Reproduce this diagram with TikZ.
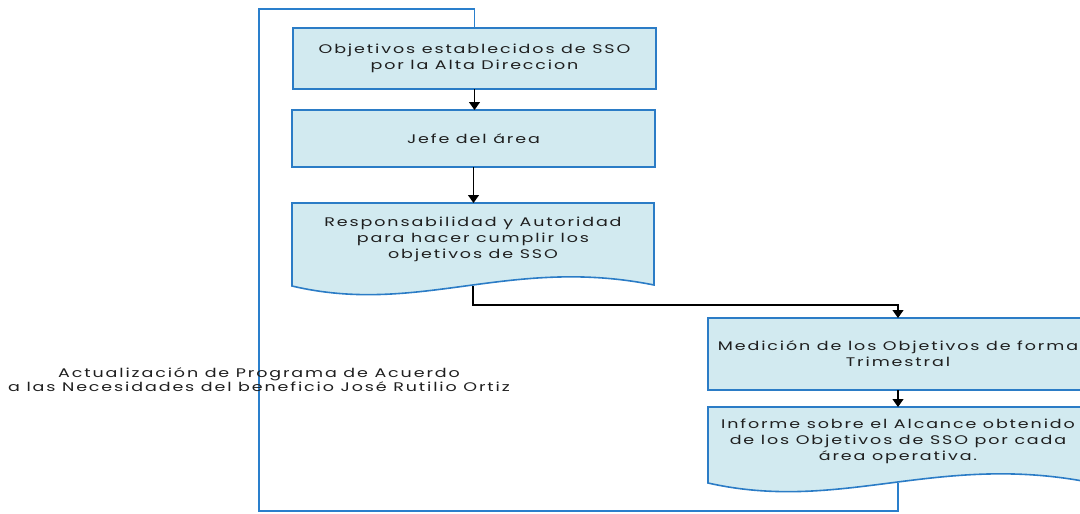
\documentclass[tikz,border=0pt]{standalone}
\usepackage{fontspec}
\setmainfont{Poppins}[FakeStretch=1.4, LetterSpace=15]
\usetikzlibrary{arrows.meta,calc,backgrounds}

\definecolor{boxfill}{HTML}{D2EAF0}
\definecolor{boxline}{HTML}{2B7CC6}
\definecolor{loopline}{HTML}{2A7FCC}

% wavy-bottom document outline around a node; #1 = node, #2 = extra depth of the wave
\newcommand\docoutline[2]{%
  \path[docbox] (#1.north west) -- (#1.north east)
    -- ($(#1.south east)+(0,#2-1)$)
    .. controls ($(#1.south west)!0.6!(#1.south east)+(0,#2-30)$)
       and ($(#1.south west)!0.35!(#1.south east)+(0,#2+30)$)
    .. ($(#1.south west)+(0,#2)$) -- cycle;}

\begin{document}
\begin{tikzpicture}[x=1pt,y=-1pt,
  txt/.style={font=\fontsize{12.5}{16}\selectfont, text=black!88, align=center},
  procbox/.style={txt, draw=boxline, fill=boxfill, line width=1.6pt,
    inner sep=0pt, outer sep=0pt},
  docnode/.style={txt, inner sep=0pt, outer sep=0pt},
  docbox/.style={draw=boxline, fill=boxfill, line width=1.6pt},
  flow/.style={draw=black, line width=1.1pt, -{Triangle[width=11pt,length=8pt]}},
  feedback/.style={draw=loopline, line width=1.5pt}]

\useasboundingbox (0,0) rectangle (1080,514);

% process steps
\node[procbox, minimum width=363pt, minimum height=61pt] (b1) at (474.5,58.5)
  {Objetivos establecidos de SSO\\por la Alta Direccion};
\node[procbox, minimum width=363pt, minimum height=57pt] (b2) at (473.5,138.5)
  {Jefe del área};
\node[docnode, minimum width=362pt, minimum height=72pt] (b3) at (473,239)
  {Responsabilidad y Autoridad\\para hacer cumplir los\\objetivos de SSO};
\node[procbox, minimum width=380pt, minimum height=72pt] (b4) at (898,354)
  {Medición de los Objetivos de forma\\Trimestral};
\node[docnode, minimum width=380pt, minimum height=68pt] (b5) at (898,441)
  {Informe sobre el Alcance obtenido\\de los Objetivos de SSO por cada\\área operativa.};

\begin{scope}[on background layer]
  \docoutline{b3}{11}
  \docoutline{b5}{8}
\end{scope}

% points where the connectors leave the wavy edges
\coordinate (b3out) at ($(b3.south)+(0,11)$);
\coordinate (b5out) at ($(b5.south)+(0,8)$);
\coordinate (fbBL) at (259,511);
\coordinate (fbTL) at (259,9);

% main flow
\draw[flow] (b1.south) -- (b1.south |- b2.north);
\draw[flow] (b2.south) -- (b2.south |- b3.north);
\draw[flow] (b3out) -- ($(b3out)+(0,19)$) -| (b4.north);
\draw[flow] (b4.south) -- (b5.north);

% feedback loop back to the first step
\draw[feedback] (b5out) |- (fbBL) -- (fbTL) -| (b1.north);

\node[txt, font=\fontsize{12.5}{14}\selectfont, inner sep=0pt] (lbl) at (259,380)
  {Actualización de Programa de Acuerdo\\a las Necesidades del beneficio José Rutilio Ortiz};
\end{tikzpicture}
\end{document}
